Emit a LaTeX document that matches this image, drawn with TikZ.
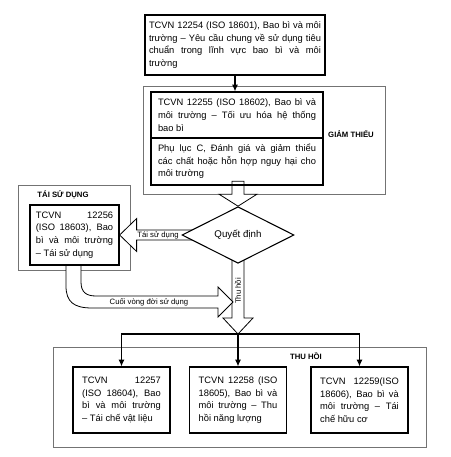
\documentclass[tikz,border=0pt]{standalone}
\usepackage{fontspec}
\setmainfont{Liberation Sans}
\usetikzlibrary{shapes.geometric,arrows.meta,calc}
\pgfdeclarelayer{back}
\pgfdeclarelayer{bg}
\pgfsetlayers{back,bg,main}
\newcommand\boxfont{\fontsize{7}{9.5}\selectfont\hyphenpenalty=10000\relax\tolerance=9999\relax}
\tikzset{
 box/.style={draw, line width=0.9pt, align=justify, inner ysep=0pt, font=\boxfont},
 grp/.style={draw=black!55, line width=0.5pt},
 hollow/.style={draw, fill=white, line width=0.6pt, line join=miter},
 lbl/.style={font=\fontsize{5.8}{6}\selectfont, inner sep=0pt},
 grplbl/.style={font=\bfseries\fontsize{5.8}{6}\selectfont, inner sep=0pt},
 conn/.style={line width=0.8pt, -{Latex[length=5pt,width=4.5pt]}},
}
\begin{document}
\begin{tikzpicture}[x=0.75pt,y=-0.75pt]
\useasboundingbox (0,0) rectangle (450,457);
% group frames
\begin{pgfonlayer}{back}
\draw[grp] (143,86) rectangle (385,194);
\draw[grp] (18,185) rectangle (130,270);
\draw[grp] (53,347) rectangle (426,447);
\end{pgfonlayer}
\node[grplbl] (lgt) at (351,134) {GIẢM THIỂU};
\node[grplbl] (ltsd) at (63,195) {TÁI SỬ DỤNG};
\node[grplbl] (lthu) at (306,356) {THU HỒI};
% boxes
\node[box, text width=129pt, inner xsep=3pt, minimum height=45pt] (top) at (235,45)
 {TCVN 12254 (ISO 18601), Bao bì và môi\linebreak trường – Yêu cầu chung về sử dụng tiêu\linebreak chuẩn trong lĩnh vực bao bì và môi\linebreak trường};
\node[box, text width=118.5pt, inner xsep=5.25pt, minimum height=34.5pt] (gt1) at (237,115)
 {TCVN 12255 (ISO 18602), Bao bì và\linebreak môi trường – Tối ưu hóa hệ thống\linebreak bao bì};
\node[box, text width=118.5pt, inner xsep=5.25pt, minimum height=35.25pt] (gt2) at (237,161.5)
 {Phụ lục C, Đánh giá và giảm thiểu\linebreak các chất hoặc hỗn hợp nguy hại cho\linebreak môi trường};
\node[box, text width=58pt, inner xsep=4.4pt, minimum height=45pt] (tsd) at (74.5,235)
 {TCVN 12256\linebreak (ISO 18603), Bao\linebreak bì và môi trường\linebreak – Tái sử dụng};
\node[box, text width=59pt, inner xsep=6.9pt, minimum height=49.5pt] (b1) at (121.5,400)
 {TCVN 12257\linebreak (ISO 18604), Bao\linebreak bì và môi trường\linebreak – Tái chế vật liệu};
\node[box, text width=59pt, inner xsep=6.9pt, minimum height=49.5pt] (b2) at (238,400)
 {TCVN 12258 (ISO\linebreak 18605), Bao bì và\linebreak môi trường – Thu\linebreak hồi năng lượng};
\node[box, text width=59pt, inner xsep=6.9pt, minimum height=49.5pt] (b3) at (359.5,400)
 {TCVN 12259(ISO\linebreak 18606), Bao bì và\linebreak môi trường – Tái\linebreak chế hữu cơ};
% decision
\node[diamond, draw, fill=white, line width=0.8pt, minimum width=84pt, minimum height=37.5pt,
  inner sep=0pt, font=\fontsize{7.3}{9}\selectfont] (d) at (238,235) {Quyết định};
\coordinate (split) at (238,334);
\coordinate (cv) at (233,302);
% hollow arrows
\begin{pgfonlayer}{bg}
\draw[hollow] (d.north) -- ++(-19,-12) -- ++(13,0) -- ($(d.north)+(-6,-25)$)
  -- ($(d.north)+(6,-25)$) -- ($(d.north)+(6,-12)$) -- ($(d.north)+(19,-12)$) -- cycle;
\draw[hollow] (tsd.east) -- ++(17,-16.5) -- ++(0,11.5) -- ($(d.west)+(16,-5)$)
  -- ($(d.west)+(16,5)$) -- ($(tsd.east)+(17,5)$) -- ($(tsd.east)+(17,16.5)$) -- cycle;
\draw[hollow] (split) -- ++(-15,-16) -- ++(9,0) -- ($(d.south)+(-6,-15)$)
  -- ($(d.south)+(6,-15)$) -- ($(split)+(6,-16)$) -- ($(split)+(15,-16)$) -- cycle;
\draw[hollow] (66,265) -- (66,286) .. controls (66,302) and (74,308) .. (92,308)
  -- (218,308) -- (218,317) -- (cv) -- (218,287) -- (218,296) -- (96,296)
  .. controls (86,296) and (81,292) .. (81,282) -- (81,265) -- cycle;
\end{pgfonlayer}
\node[lbl] (l1) at (158,235) {Tái sử dụng};
\node[lbl, rotate=90] (l2) at (238,291) {Thu hồi};
\node[lbl] (l3) at (149,302) {Cuối vòng đời sử dụng};
% connectors
\draw[conn] (top.south) -- (top.south |- gt1.north);
\draw[conn] (split) -| (b1.north);
\draw[conn] (split) -| (b3.north);
\draw[conn] (split) -- (b2.north);
\end{tikzpicture}
\end{document}
